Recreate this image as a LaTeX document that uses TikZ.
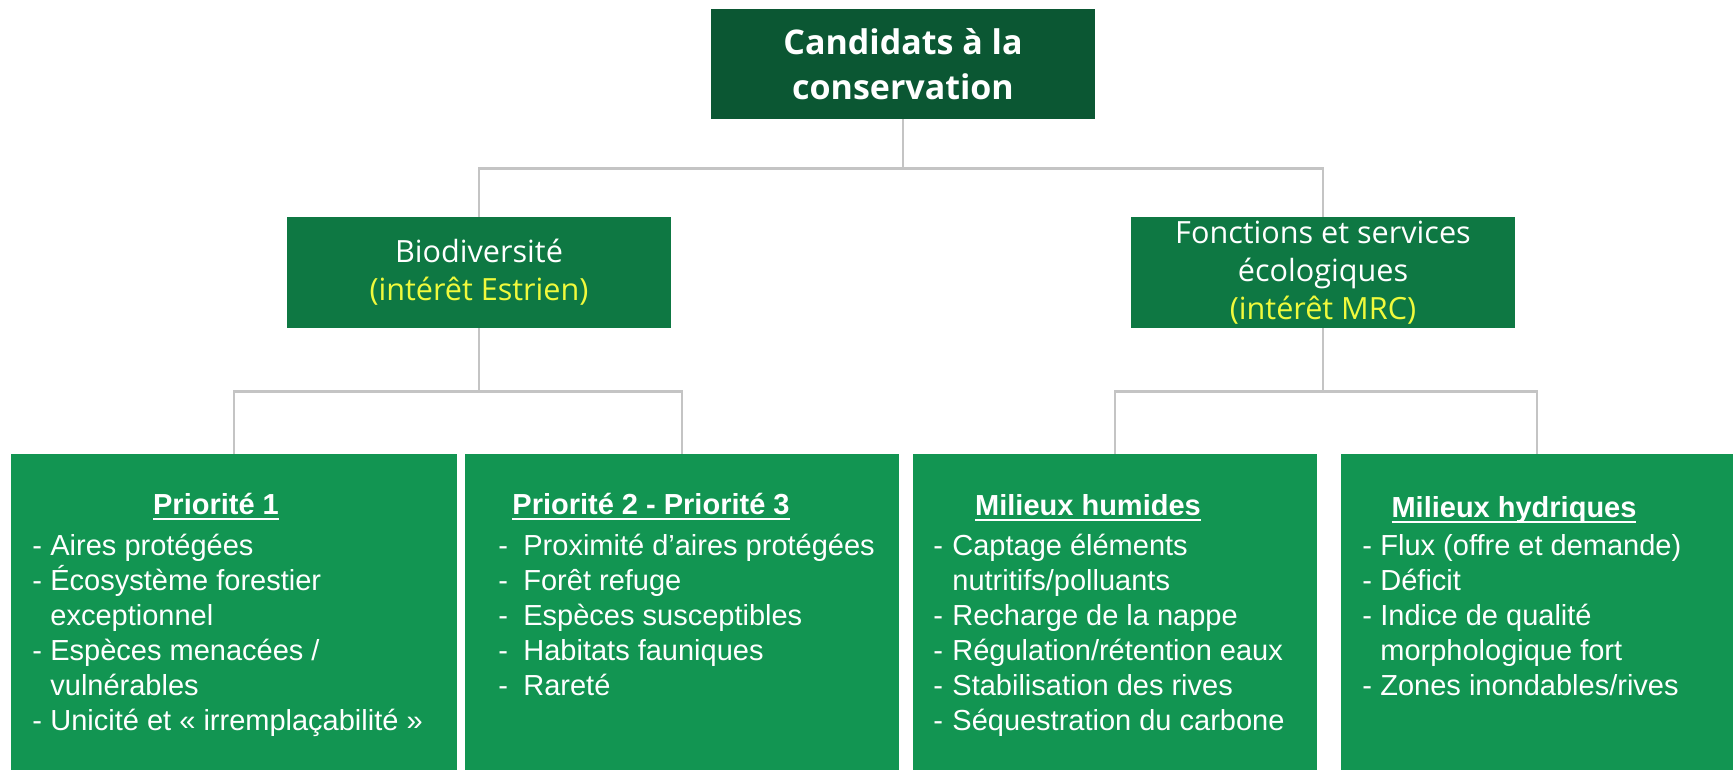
\documentclass[tikz,border=0pt]{standalone}
\usepackage{fontspec}
\setmainfont{Liberation Sans}
\newfontfamily\headfont{Open Sans}
\definecolor{topgreen}{HTML}{0B5733}
\definecolor{midgreen}{HTML}{0E7843}
\definecolor{lowgreen}{HTML}{129552}
\definecolor{note}{HTML}{F0FA3C}
\definecolor{link}{HTML}{C4C4C4}
\newcommand\ulhead[1]{\setbox0\hbox{#1}\rlap{\rule[-3pt]{\wd0}{1pt}}\box0}
\newcommand\itm[2]{\par\noindent\hangindent=#1\hangafter=1\makebox[#1][l]{-}#2}

\begin{document}
\begin{tikzpicture}[x=0.5pt, y=-0.5pt,
    box/.style={rectangle, inner sep=0pt, text=white, align=center},
    topbox/.style={box, fill=topgreen, minimum width=192pt, minimum height=55pt,
        font=\headfont\bfseries\fontsize{17}{22.5}\selectfont},
    midbox/.style={box, fill=midgreen, minimum width=192pt, minimum height=55.5pt,
        font=\headfont\fontsize{15.3}{19}\selectfont},
    lowbox/.style={box, fill=lowgreen, minimum height=158pt},
    head/.style={inner sep=0pt, anchor=base, text=white, font=\bfseries\fontsize{14.5}{17.5}\selectfont},
    list/.style={inner sep=0pt, anchor=base west, text=white, font=\fontsize{14.5}{17.5}\selectfont},
    link/.style={draw=link, line width=1.3pt}]
\useasboundingbox (0,0) rectangle (1733,770);
\node[topbox] (cand) at (903,64) {Candidats à la\\conservation};
\node[midbox] (bio) at (479,272.5) {Biodiversité\\\textcolor{note}{(intérêt Estrien)}};
\node[midbox] (fes) at (1323,272.5) {Fonctions et services\\écologiques\\\textcolor{note}{(intérêt MRC)}};
\node[lowbox, minimum width=223pt] (p1) at (234,612) {};
\node[lowbox, minimum width=217pt] (p23) at (682,612) {};
\node[lowbox, minimum width=202pt] (humid) at (1115,612) {};
\node[lowbox, minimum width=196pt] (hydro) at (1537,612) {};
\draw[link] (cand.south) -- ++(0,49) -| (bio.north);
\draw[link] (cand.south) -- ++(0,49) -| (fes.north);
\draw[link] (bio.south) -- ++(0,63) -| (p1.north);
\draw[link] (bio.south) -- ++(0,63) -| (p23.north);
\draw[link] (fes.south) -- ++(0,63) -| (humid.north);
\draw[link] (fes.south) -- ++(0,63) -| (hydro.north);
\node[head] (p1head) at (216,514) {\ulhead{Priorité 1}};
\node[list] (p1list) at (32,555) {\parbox[t]{215pt}{%
    \itm{9pt}{Aires protégées}
    \itm{9pt}{Écosystème forestier\\exceptionnel}
    \itm{9pt}{Espèces menacées /\\vulnérables}
    \itm{9pt}{Unicité et «~irremplaçabilité~»}}};
\node[head] (p23head) at (651,514) {\ulhead{Priorité 2 - Priorité 3}};
\node[list] (p23list) at (498,555) {\parbox[t]{200pt}{%
    \itm{12.5pt}{Proximité d’aires protégées}
    \itm{12.5pt}{Forêt refuge}
    \itm{12.5pt}{Espèces susceptibles}
    \itm{12.5pt}{Habitats fauniques}
    \itm{12.5pt}{Rareté}}};
\node[head] (humidhead) at (1088,515) {\ulhead{Milieux humides}};
\node[list] (humidlist) at (933,555) {\parbox[t]{195pt}{%
    \itm{9.5pt}{Captage éléments\\nutritifs/polluants}
    \itm{9.5pt}{Recharge de la nappe}
    \itm{9.5pt}{Régulation/rétention eaux}
    \itm{9.5pt}{Stabilisation des rives}
    \itm{9.5pt}{Séquestration du carbone}}};
\node[head] (hydrohead) at (1514,517) {\ulhead{Milieux hydriques}};
\node[list] (hydrolist) at (1362,555) {\parbox[t]{185pt}{%
    \itm{9pt}{Flux (offre et demande)}
    \itm{9pt}{Déficit}
    \itm{9pt}{Indice de qualité\\morphologique fort}
    \itm{9pt}{Zones inondables/rives}}};
\end{tikzpicture}
\end{document}
